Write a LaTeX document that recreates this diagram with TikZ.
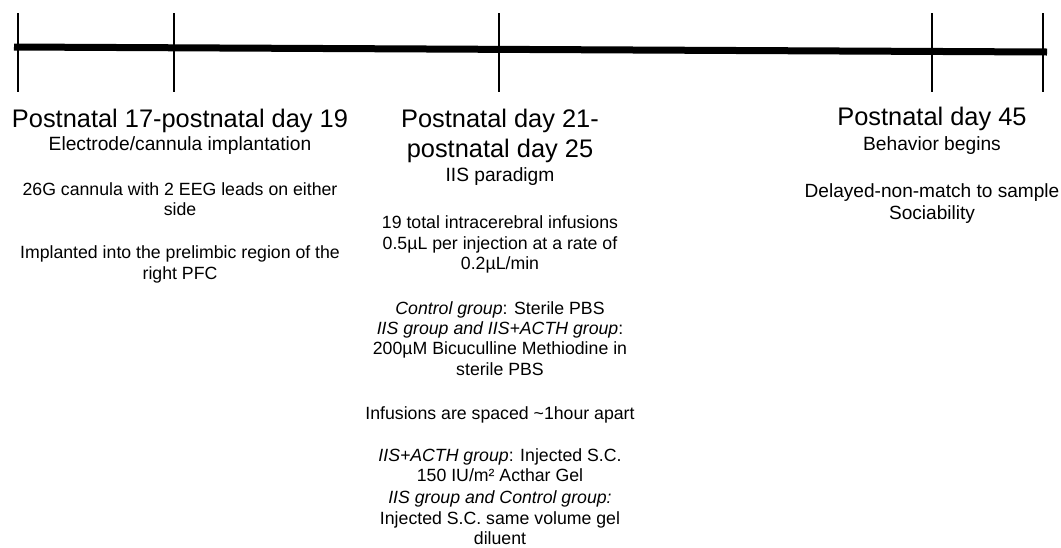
\documentclass[tikz,border=0pt]{standalone}
\usepackage{fontspec}
\setmainfont{Liberation Sans}
\begin{document}
\begin{tikzpicture}[x=1pt,y=-1pt,
  ttl/.style={font=\fontsize{25.4}{30}\selectfont, anchor=base, inner sep=0pt},
  sub/.style={font=\fontsize{19.2}{22}\selectfont, anchor=base, inner sep=0pt},
  bod/.style={font=\fontsize{17.7}{20.5}\selectfont, anchor=base, inner sep=0pt},
  bodb/.style={font=\fontsize{19.1}{22}\selectfont, anchor=base, inner sep=0pt},
  axis/.style={line width=7pt},
  tick/.style={line width=2.6pt}]
\useasboundingbox (0,0) rectangle (1061,547);
% timeline
\coordinate (L) at (14,47);
\coordinate (R) at (1047,52);
\draw[axis] (L) -- (R);
\foreach \x in {18,174,499,932,1043}{
  \draw[tick] (\x,13) -- (\x,92);
}
% column 1
\node[ttl] (a1) at (180,127) {Postnatal 17-postnatal day 19};
\node[sub] (a2) at (180,150) {Electrode/cannula implantation};
\node[bod] (a3) at (180,195) {26G cannula with 2 EEG leads on either};
\node[bod] (a4) at (180,215) {side};
\node[bod] (a5) at (180,258) {Implanted into the prelimbic region of the};
\node[bod] (a6) at (180,279) {right PFC};
% column 2
\node[ttl] (b1) at (500,127) {Postnatal day 21-};
\node[ttl] (b2) at (500,157) {postnatal day 25};
\node[sub] (b3) at (500,181) {IIS paradigm};
\node[bod] (b4) at (500,228) {19 total intracerebral infusions};
\node[bod] (b5) at (500,249) {0.5µL per injection at a rate of};
\node[bod] (b6) at (500,269) {0.2µL/min};
\node[bod] (b7) at (500,314) {\textit{Control group}: Sterile PBS};
\node[bod] (b8) at (500,334) {\textit{IIS group and IIS+ACTH group}:};
\node[bod] (b9) at (500,354) {200µM Bicuculline Methiodine in};
\node[bod] (b10) at (500,375) {sterile PBS};
\node[bod] (b11) at (500,419) {Infusions are spaced \textasciitilde1hour apart};
\node[bod] (b12) at (500,461) {\textit{IIS+ACTH group}: Injected S.C.};
\node[bod] (b13) at (500,481) {150 IU/m² Acthar Gel};
\node[bod] (b14) at (500,503) {\textit{IIS group and Control group:}};
\node[bod] (b15) at (500,524) {Injected S.C. same volume gel};
\node[bod] (b16) at (500,544) {diluent};
% column 3
\node[ttl] (c1) at (932,125) {Postnatal day 45};
\node[sub] (c2) at (932,150) {Behavior begins};
\node[bodb] (c3) at (932,197) {Delayed-non-match to sample};
\node[bodb] (c4) at (932,219) {Sociability};
\end{tikzpicture}
\end{document}
